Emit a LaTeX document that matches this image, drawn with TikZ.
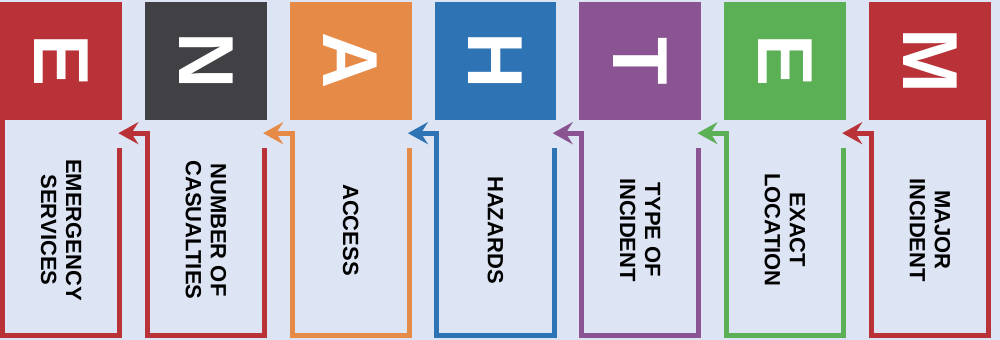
\documentclass[tikz,border=0pt]{standalone}
\usepackage{fontspec}
\setsansfont{Liberation Sans}
\usetikzlibrary{arrows.meta}

\definecolor{bgblue}{HTML}{DDE4F3}
\definecolor{mred}{HTML}{B93237}
\definecolor{mdark}{HTML}{414045}
\definecolor{morange}{HTML}{E68A48}
\definecolor{mblue}{HTML}{2E74B5}
\definecolor{mpurple}{HTML}{8A5493}
\definecolor{mgreen}{HTML}{5BAF55}

\tikzset{
  letterbox/.style={fill=#1, minimum width=122pt, minimum height=118pt, inner sep=0pt,
    text=white, font=\sffamily\bfseries\fontsize{78}{78}\selectfont},
  itemtext/.style={rotate=-90, align=center, inner sep=0pt,
    font=\sffamily\bfseries\fontsize{22}{25}\selectfont},
  frameline/.style={draw=#1, line width=5pt, line join=miter},
  backarrow/.style={{Stealth[length=20pt, width=22pt, inset=7pt]}-}
}

\begin{document}
\begin{tikzpicture}[x=1pt, y=1pt]
  \fill[bgblue] (0,0) rectangle (1000,-340);

  \foreach \i/\lt/\sqcol/\frcol/\txt in {
      0/E/mred/mred/{EMERGENCY\\SERVICES},
      1/N/mdark/mred/{NUMBER OF\\CASUALTIES},
      2/A/morange/morange/ACCESS,
      3/H/mblue/mblue/HAZARDS,
      4/T/mpurple/mpurple/{TYPE OF\\INCIDENT},
      5/E/mgreen/mgreen/{EXACT\\LOCATION},
      6/M/mred/mred/{MAJOR\\INCIDENT}} {
    \node[letterbox=\sqcol] (sq\i) at ({144.8 * \i + 61}, -61) {\rotatebox{-90}{\lt}};
    \node[itemtext] (lab\i) at ({144.8 * \i + 61}, -230) {\txt};

    \ifnum\i=0
      \draw[frameline=\frcol] ([xshift=2.5pt]sq0.south west)
        |- ([xshift=-2.5pt, yshift=-215.5pt]sq0.south east)
        -- ([xshift=-2.5pt, yshift=-28pt]sq0.south east);
    \else
      \pgfmathtruncatemacro\j{\i - 1}
      \ifnum\i=6 \def\rend{0}\else\def\rend{-28}\fi
      \draw[frameline=\frcol, backarrow] ([xshift=-4pt, yshift=-13pt]sq\j.south east)
        -| ([xshift=2.5pt, yshift=-215.5pt]sq\i.south west)
        -| ([xshift=-2.5pt, yshift=\rend pt]sq\i.south east);
    \fi
  }
\end{tikzpicture}
\end{document}
